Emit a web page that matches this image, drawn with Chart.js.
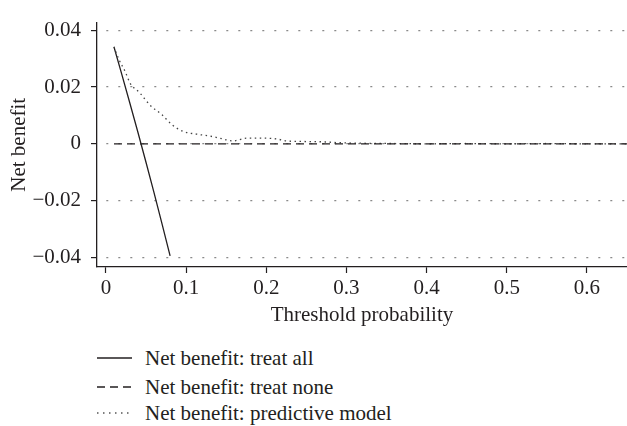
<!DOCTYPE html>
<html>
<head>
<meta charset="utf-8">
<script src="https://cdn.jsdelivr.net/npm/chart.js@4"></script>
<style>
    html, body { margin: 0; padding: 0; background: #fff; }
    #wrap { position: relative; width: 627px; height: 426px; overflow: hidden; }
    #netChart { position: absolute; left: 0; top: 0; }
    .legend-row {
        position: absolute;
        left: 97px;
        height: 26px;
        display: flex;
        align-items: center;
        font-family: "Liberation Serif", serif;
        font-size: 21px;
        color: #231f20;
        white-space: nowrap;
    }
    .legend-row svg { margin-right: 13px; }
</style>
</head>
<body>
<div id="wrap">
    <canvas id="netChart" width="627" height="330"></canvas>
    <div class="legend-row" style="top:345px">
        <svg width="35" height="4"><line x1="0" y1="2" x2="35" y2="2" stroke="#231f20" stroke-width="1.3"/></svg>
        <span>Net benefit: treat all</span>
    </div>
    <div class="legend-row" style="top:374px">
        <svg width="35" height="4"><line x1="0" y1="2" x2="35" y2="2" stroke="#231f20" stroke-width="1.3" stroke-dasharray="8 5"/></svg>
        <span>Net benefit: treat none</span>
    </div>
    <div class="legend-row" style="top:400px">
        <svg width="35" height="4"><line x1="0" y1="2" x2="35" y2="2" stroke="#555" stroke-width="1.3" stroke-dasharray="1.5 4.5"/></svg>
        <span>Net benefit: predictive model</span>
    </div>
</div>

<script>
// Threshold probabilities and net benefit values
const allThresholds = [0.01, 0.02, 0.03, 0.04, 0.05, 0.06, 0.07, 0.08];
const treatAllValues = [0.0341, 0.0242, 0.0141, 0.0039, -0.0066, -0.0173, -0.0283, -0.0395];

const noneThresholds = [0.01, 0.65];
const treatNoneValues = [0, 0];

const modelThresholds = [0.01, 0.016, 0.024, 0.03, 0.042, 0.055, 0.07, 0.082, 0.096, 0.113,
    0.13, 0.146, 0.158, 0.176, 0.192, 0.213, 0.226, 0.25, 0.27, 0.29,
    0.32, 0.36, 0.40, 0.45, 0.50, 0.55, 0.60, 0.65];
const modelValues = [0.0342, 0.0298, 0.0254, 0.0214, 0.018, 0.0136, 0.0102, 0.0068, 0.0044, 0.0034,
    0.0027, 0.0017, 0.001, 0.002, 0.002, 0.0017, 0.001, 0.0008, 0.0007, 0.0004,
    0.0002, 0.0001, 0, 0.0001, 0, 0.0001, 0, 0];

const xTicks = [0, 0.1, 0.2, 0.3, 0.4, 0.5, 0.6];
const yTicks = [-0.04, -0.02, 0, 0.02, 0.04];

const inkColor = '#231f20';
const fontFamily = '"Liberation Serif", serif';
const fontSize = 21;

function toPoints(xs, ys) {
    return xs.map((x, i) => ({ x: x, y: ys[i] }));
}

// 0 stays "0", others two decimals with a real minus sign
function formatTick(value) {
    if (value === 0) return '0';
    const txt = Math.abs(value).toFixed(2);
    return value < 0 ? '\u2212' + txt : txt;
}

const ctx = document.getElementById('netChart');

new Chart(ctx, {
    type: 'line',
    data: {
        datasets: [
            {
                label: 'Net benefit: treat none',
                data: toPoints(noneThresholds, treatNoneValues),
                borderColor: inkColor,
                borderWidth: 1.3,
                borderDash: [8, 5],
                pointRadius: 0,
                tension: 0
            },
            {
                label: 'Net benefit: predictive model',
                data: toPoints(modelThresholds, modelValues),
                borderColor: '#444',
                borderWidth: 1.3,
                borderDash: [1.5, 3.5],
                pointRadius: 0,
                cubicInterpolationMode: 'monotone'
            },
            {
                label: 'Net benefit: treat all',
                data: toPoints(allThresholds, treatAllValues),
                borderColor: inkColor,
                borderWidth: 1.3,
                pointRadius: 0,
                tension: 0
            }
        ]
    },
    options: {
        responsive: false,
        animation: false,
        layout: {
            padding: { top: 13, right: 0, bottom: 0, left: 0 }
        },
        plugins: {
            legend: { display: false },
            tooltip: { enabled: false }
        },
        scales: {
            x: {
                type: 'linear',
                min: -0.0112,
                max: 0.65,
                afterBuildTicks: (scale) => {
                    scale.ticks = xTicks.map(v => ({ value: v }));
                },
                afterFit: (scale) => {
                    scale.height = 63;
                },
                ticks: {
                    color: inkColor,
                    padding: 3,
                    maxRotation: 0,
                    font: { family: fontFamily, size: fontSize },
                    callback: (value) => value === 0 ? '0' : String(Number(value.toFixed(1)))
                },
                grid: {
                    drawOnChartArea: false,
                    tickLength: 6,
                    tickColor: inkColor,
                    tickWidth: 1.2
                },
                border: {
                    color: inkColor,
                    width: 1.3
                },
                title: {
                    display: true,
                    text: 'Threshold probability',
                    color: inkColor,
                    font: { family: fontFamily, size: fontSize },
                    padding: { top: 0, bottom: 2 }
                }
            },
            y: {
                type: 'linear',
                min: -0.0434,
                max: 0.0427,
                afterBuildTicks: (scale) => {
                    scale.ticks = yTicks.map(v => ({ value: v }));
                },
                afterFit: (scale) => {
                    scale.width = 97;
                },
                ticks: {
                    color: inkColor,
                    padding: 10,
                    font: { family: fontFamily, size: fontSize },
                    callback: (value) => formatTick(value)
                },
                grid: {
                    color: '#8a8a8a',
                    lineWidth: 1.2,
                    tickLength: 6,
                    tickColor: inkColor,
                    tickWidth: 1.2,
                    tickBorderDash: []
                },
                border: {
                    color: inkColor,
                    width: 1.3,
                    dash: [2, 10],
                    dashOffset: -9
                },
                title: {
                    display: true,
                    text: 'Net benefit',
                    color: inkColor,
                    font: { family: fontFamily, size: fontSize },
                    padding: { top: 7, bottom: 0 }
                }
            }
        }
    }
});
</script>
</body>
</html>
